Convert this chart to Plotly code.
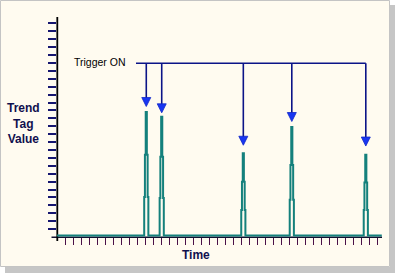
import plotly.graph_objects as go

# ---------------- data ----------------
time_start = 0.0
time_end = 40.6
baseline = 0.2
peak_time = [11.16, 13.09, 23.29, 29.35, 38.6]
peak_top = [15.8, 15.2, 10.6, 13.9, 10.4]
peak_mid = [10.4, 10.15, 7.0, 9.1, 6.9]
peak_low = [5.06, 4.93, 3.4, 4.7, 3.4]
trigger_time = [11.16, 13.09, 23.29, 29.35, 38.6]
trigger_tip = [16.5, 15.7, 11.6, 14.6, 11.5]
trigger_bar_level = 21.96
trigger_bar_start = 9.875
trigger_label = "Trigger ON"
y_title = "Trend<br>Tag<br>Value"
x_title = "Time"
x_tick_vals = list(range(1, 41))
y_tick_vals = list(range(1, 28))

# ---------------- geometry / style ----------------
W, H = 395, 273
AX_L, AX_R, AX_B, AX_T = 57, 382, 237, 17   # plot area in pixels
X_RANGE = [0, (AX_R - AX_L) / 8.0]
Y_RANGE = [0, (AX_B - AX_T) / 7.91]
TEAL = "#14807c"
NAVY = "#0b1488"
HEAD = "#1836f2"
CREAM = "#FFFBF0"

def px(x):
    return x / W

def py(y):
    return 1 - y / H

# half-widths of the stepped spike outline (time units)
w0, w1, w2 = 0.26, 0.17, 0.07

tx, ty = [time_start], [baseline]
for c, top, mid, low in zip(peak_time, peak_top, peak_mid, peak_low):
    tx += [c - w0, c - w0, c - w1, c - w1, c - w2, c - w2,
           c + w2, c + w2, c + w1, c + w1, c + w0, c + w0]
    ty += [baseline, low, low, mid, mid, top,
           top, mid, mid, low, low, baseline]
tx.append(time_end)
ty.append(baseline)

fig = go.Figure()
fig.add_trace(go.Scatter(x=tx, y=ty, mode="lines",
                         line=dict(color=TEAL, width=2),
                         hoverinfo="skip", showlegend=False))

# trigger shafts + horizontal bar
sx, sy = [trigger_bar_start, trigger_time[-1], None], [trigger_bar_level, trigger_bar_level, None]
for t, tip in zip(trigger_time, trigger_tip):
    sx += [t, t, None]
    sy += [trigger_bar_level, tip + 0.5, None]
fig.add_trace(go.Scatter(x=sx, y=sy, mode="lines",
                         line=dict(color=NAVY, width=1.6),
                         hoverinfo="skip", showlegend=False))
fig.add_trace(go.Scatter(x=trigger_time, y=trigger_tip, mode="markers",
                         marker=dict(symbol="arrow-down", size=9, color=HEAD,
                                     line=dict(color="#1026c8", width=0.8)),
                         hoverinfo="skip", showlegend=False))

shapes = [
    # panel + drop shadow
    dict(type="rect", xref="paper", yref="paper", layer="below",
         x0=px(0.5), x1=px(389.5), y0=py(266.5), y1=py(0.5),
         fillcolor=CREAM, line=dict(color="#c4c4c4", width=1)),
    dict(type="rect", xref="paper", yref="paper", layer="below",
         x0=px(390), x1=px(395), y0=py(273), y1=py(5),
         fillcolor="#c6c6c6", line=dict(width=0)),
    dict(type="rect", xref="paper", yref="paper", layer="below",
         x0=px(5), x1=px(395), y0=py(273), y1=py(267),
         fillcolor="#c6c6c6", line=dict(width=0)),
    # axis lines
    dict(type="line", xref="paper", yref="paper", layer="below",
         x0=px(51.5), x1=px(AX_R), y0=py(AX_B + 0.3), y1=py(AX_B + 0.3),
         line=dict(color="#101030", width=1.6)),
    dict(type="line", xref="paper", yref="paper", layer="below",
         x0=px(AX_L + 0.3), x1=px(AX_L + 0.3), y0=py(AX_T), y1=py(AX_B + 4),
         line=dict(color="#000000", width=1.8)),
]

annotations = [
    dict(xref="x", yref="y", x=(127.5 - AX_L) / 8.0, y=trigger_bar_level + 0.2,
         text=trigger_label, showarrow=False, xanchor="right", yanchor="middle",
         font=dict(family="Liberation Sans", size=10.5, color="#000000")),
    dict(xref="paper", yref="paper", x=px(23.5), y=py(123.5), text="<b>" + y_title + "</b>",
         showarrow=False, xanchor="center", yanchor="middle", align="center",
         font=dict(family="Liberation Sans", size=12, color="#10104e")),
    dict(xref="paper", yref="paper", x=px(195.5), y=py(255), text="<b>" + x_title + "</b>",
         showarrow=False, xanchor="center", yanchor="middle",
         font=dict(family="Liberation Sans", size=12, color="#10104e")),
]

fig.update_layout(
    width=W, height=H, autosize=False,
    margin=dict(l=0, r=0, t=0, b=0, pad=0),
    paper_bgcolor="#ffffff", plot_bgcolor="rgba(0,0,0,0)",
    shapes=shapes, annotations=annotations,
    xaxis=dict(domain=[px(AX_L), px(AX_R)], range=X_RANGE, showgrid=False,
               zeroline=False, showline=False, showticklabels=False,
               ticks="outside", tickvals=x_tick_vals, ticklen=7, tickwidth=1,
               tickcolor="#4a1048", fixedrange=True),
    yaxis=dict(domain=[py(AX_B), py(AX_T)], range=Y_RANGE, showgrid=False,
               zeroline=False, showline=False, showticklabels=False,
               ticks="outside", tickvals=y_tick_vals, ticklen=8, tickwidth=2,
               tickcolor="#151570", fixedrange=True),
)

fig.write_html("out.html", config={"displayModeBar": False})
